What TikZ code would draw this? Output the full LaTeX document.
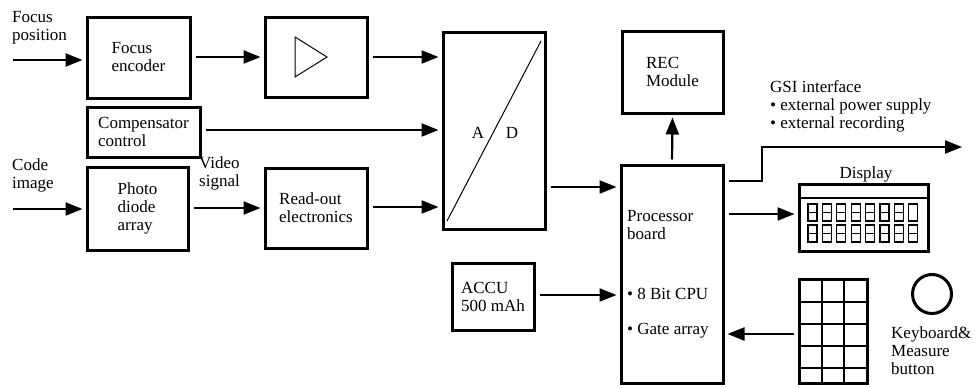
\documentclass[tikz,border=0pt]{standalone}
\usepackage{fontspec}
\setmainfont{Liberation Serif}
\usetikzlibrary{arrows.meta}
\begin{document}
\begin{tikzpicture}[x=1pt,y=-1pt,
  box/.style={draw, line width=3pt, inner sep=0pt, align=left,
    font=\fontsize{17}{18}\selectfont},
  arr/.style={line width=2.2pt, -{Triangle[length=17pt,width=13pt]},
    shorten <=4pt, shorten >=3pt},
  lbl/.style={align=left, inner sep=0pt, font=\fontsize{17}{18}\selectfont},
  thin/.style={line width=1.1pt}]
\useasboundingbox (0,0) rectangle (980,388);

% boxes
\node[box, minimum width=103, minimum height=81] (fenc) at (138.5,57.5) {Focus\\encoder};
\node[box, minimum width=102, minimum height=80] (amp) at (316,57) {};
\node[box, minimum width=113, minimum height=50] (comp) at (143.5,132) {Compensator\\control};
\node[box, minimum width=101, minimum height=83] (photo) at (137.5,208.5) {Photo\\diode\\array};
\node[box, minimum width=102, minimum height=80] (ro) at (316,208) {Read-out\\electronics};
\node[box, minimum width=102, minimum height=197] (ad) at (494,130.5) {};
\node[box, minimum width=101, minimum height=82] (rec) at (672.5,72) {REC\\Module};
\node[box, minimum width=102, minimum height=218] (proc) at (672,274) {};
\node[box, minimum width=82, minimum height=67] (accu) at (493,296.5) {ACCU\\500 mAh};
\node[box, minimum width=129, minimum height=67] (disp) at (863.5,217.5) {};
\node[box, minimum width=68, minimum height=104] (kp) at (833,331) {};
\node[draw, circle, line width=3pt, minimum size=39, inner sep=0pt] (btn) at (932,294) {};

% amplifier triangle
\draw[line width=1pt] (295,37) -- (327,57) -- (295,77) -- cycle;
% A/D diagonal and letters
\draw[line width=1pt] (447,221) -- (541,41);
\node[lbl] (la) at (478,133) {A};
\node[lbl] (ld) at (512,133) {D};

% processor texts
\node[lbl, anchor=north west] (ptxt) at (627,210) {Processor\\board};
\node[lbl, anchor=west] (pcpu) at (627,294) {• 8 Bit CPU};
\node[lbl, anchor=west] (pgate) at (627,331) {• Gate array};

% display details
\draw[thin] (disp.west |- 0,198) -- (disp.east |- 0,198);
\foreach \i in {0,...,7} {
  \pgfmathsetmacro{\xx}{808+14.4*\i}
  \draw[thin] (\xx,204) rectangle ++(9,17);
  \draw[thin] (\xx,225) rectangle ++(9,17);
  \draw[thin] (\xx,233.5) -- ++(9,0);
  \ifnum\i<7 \draw[thin] (\xx,212.5) -- ++(9,0); \fi
}
\node[lbl, anchor=base] (dlbl) at (866,178) {Display};

% keypad grid
\draw[thin] (822,279) -- (822,383);
\draw[thin] (844,279) -- (844,383);
\foreach \yy in {302,324,346,368} \draw[thin] (799,\yy) -- (867,\yy);

% labels
\node[lbl, anchor=north west] (fpos) at (12,11) {Focus\\position};
\node[lbl, anchor=north west] (cimg) at (12,159) {Code\\image};
\node[lbl, anchor=north west] (vsig) at (199,157) {Video\\signal};
\node[lbl, anchor=north west] (gsi) at (770,80) {GSI interface\\• external power supply\\• external recording};
\node[lbl, anchor=north west] (kbd) at (891,327) {Keyboard\&\\Measure\\button};

% free ends
\coordinate (fin) at (13,60);
\coordinate (cin) at (13,209);
\coordinate (gsiend) at (962,147);

% connectors
\draw[arr, shorten <=0pt] (fin) -- (fin -| fenc.west);
\draw[arr, shorten <=0pt] (cin) -- (cin -| photo.west);
\draw[arr] (fenc.east |- 0,57) -- (amp.west |- 0,57);
\draw[arr] (photo.east |- 0,208) -- (ro.west |- 0,208);
\draw[arr] (amp.east |- 0,57) -- (ad.west |- 0,57);
\draw[arr] (comp.east |- 0,130) -- (ad.west |- 0,130);
\draw[arr] (ro.east |- 0,207) -- (ad.west |- 0,207);
\draw[arr] (ad.east |- 0,187) -- (proc.west |- 0,187);
\draw[arr] (accu.east |- 0,295) -- (proc.west |- 0,295);
\draw[arr] (proc.north) -- (rec.south);
\draw[arr, shorten >=0pt] (proc.east |- 0,181) -- (762,181) -- (762,147) -- (gsiend);
\draw[arr] (proc.east |- 0,214) -- (disp.west |- 0,214);
\draw[arr] (kp.west |- 0,334) -- (proc.east |- 0,334);
\end{tikzpicture}
\end{document}
